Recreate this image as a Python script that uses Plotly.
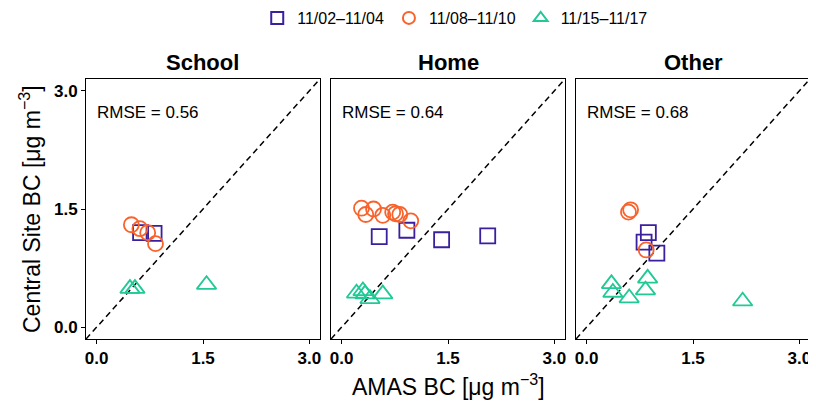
import plotly.graph_objects as go
from plotly.subplots import make_subplots

panels = ["School", "Home", "Other"]
rmse = ["0.56", "0.64", "0.68"]
series_names = ["11/02\u201311/04", "11/08\u201311/10", "11/15\u201311/17"]

# AMAS (x) and Central Site (y) BC values per panel per series
sq_x = {"School": [0.62, 0.81], "Home": [0.53, 0.92, 1.41, 2.06], "Other": [0.87, 0.81, 0.99]}
sq_y = {"School": [1.20, 1.19], "Home": [1.15, 1.23, 1.11, 1.16], "Other": [1.20, 1.08, 0.94]}
ci_x = {"School": [0.49, 0.61, 0.72, 0.83], "Home": [0.28, 0.34, 0.45, 0.58, 0.72, 0.76, 0.82, 0.975], "Other": [0.59, 0.62, 0.84]}
ci_y = {"School": [1.30, 1.25, 1.20, 1.06], "Home": [1.51, 1.43, 1.50, 1.42, 1.46, 1.44, 1.43, 1.35], "Other": [1.46, 1.49, 0.98]}
tr_x = {"School": [0.47, 0.54, 1.55], "Home": [0.21, 0.30, 0.33, 0.40, 0.58], "Other": [0.35, 0.37, 0.60, 0.86, 0.83, 2.20]}
tr_y = {"School": [0.49, 0.49, 0.54], "Home": [0.43, 0.46, 0.42, 0.36, 0.42], "Other": [0.55, 0.44, 0.37, 0.62, 0.47, 0.33]}

ticks = [0.0, 1.5, 3.0]
tick_text = ["0.0", "1.5", "3.0"]
axis_range = [-0.15, 3.15]

colors = ["#3A1F9E", "#F9622B", "#20C995"]
symbols = ["square-open", "circle-open", "triangle-up-open"]
sizes = [15, 15, 17]

OFF = 8  # default page body margin
W, H = 816 - OFF, 401 - OFF
ML, MR, MT = 86 - OFF, 6, 79 - OFF
PW = W - ML - MR
PH = 260
MB = H - MT - PH

fig = make_subplots(rows=1, cols=3, shared_yaxes=True, horizontal_spacing=0.0152)

for i, p in enumerate(panels):
    col = i + 1
    # 1:1 reference line
    fig.add_trace(go.Scatter(x=axis_range, y=axis_range, mode="lines",
                             line=dict(color="black", width=1.5, dash="6px,4px"),
                             showlegend=False, hoverinfo="skip"), row=1, col=col)
    data = [(sq_x[p], sq_y[p]), (ci_x[p], ci_y[p]), (tr_x[p], tr_y[p])]
    for k, (xs, ys) in enumerate(data):
        fig.add_trace(go.Scatter(
            x=xs, y=ys, mode="markers", name=series_names[k],
            legendgroup=series_names[k], showlegend=(i == 0),
            marker=dict(symbol=symbols[k], size=sizes[k], color=colors[k],
                        line=dict(width=1.8, color=colors[k]))),
            row=1, col=col)
    xref = "x" if i == 0 else f"x{col}"
    yref = "y" if i == 0 else f"y{col}"
    fig.add_annotation(x=-0.02, y=2.73, xref=xref, yref=yref, text=f"RMSE = {rmse[i]}",
                       showarrow=False, xanchor="left", yanchor="middle",
                       font=dict(size=17, color="black", family="Liberation Sans, Arial"))
    dom = fig.layout[f"xaxis{'' if i == 0 else col}"].domain
    fig.add_annotation(x=(dom[0] + dom[1]) / 2, y=1.0, xref="paper", yref="paper",
                       yshift=17, text=f"<b>{p}</b>", showarrow=False,
                       xanchor="center", yanchor="middle",
                       font=dict(size=22, color="black", family="Liberation Sans, Arial"))

# axis titles
fig.add_annotation(x=0.5, y=-(385 - OFF - (MT + PH)) / PH, xref="paper", yref="paper",
                   text="AMAS BC [\u03bcg m<sup>\u22123</sup>]", showarrow=False,
                   xanchor="center", yanchor="middle",
                   font=dict(size=23, color="black", family="Liberation Sans, Arial"))
fig.add_annotation(x=-(ML - (30 - OFF)) / PW, y=0.5, xref="paper", yref="paper",
                   text="Central Site BC [\u03bcg m<sup>\u22123</sup>]", showarrow=False,
                   textangle=-90, xanchor="center", yanchor="middle",
                   font=dict(size=23, color="black", family="Liberation Sans, Arial"))

tickfont = dict(size=17, color="black", family="Liberation Sans Narrow, Liberation Sans, Arial")
fig.update_xaxes(range=axis_range, tickvals=ticks, ticktext=["<b>%s</b>" % t for t in tick_text],
                 showgrid=False, zeroline=False, showline=True, mirror=True,
                 linecolor="black", linewidth=1, ticks="outside", ticklen=4,
                 tickcolor="black", tickfont=tickfont, automargin=False)
fig.update_yaxes(range=axis_range, tickvals=ticks, ticktext=["<b>%s</b>" % t for t in tick_text],
                 showgrid=False, zeroline=False, showline=True, mirror=True,
                 linecolor="black", linewidth=1, ticks="outside", ticklen=4,
                 tickcolor="black", tickfont=tickfont, automargin=False)
fig.update_yaxes(ticks="", showticklabels=False, row=1, col=2)
fig.update_yaxes(ticks="", showticklabels=False, row=1, col=3)

fig.update_layout(
    width=W, height=H,
    margin=dict(l=ML, r=MR, t=MT, b=MB, autoexpand=False),
    plot_bgcolor="white", paper_bgcolor="white",
    legend=dict(orientation="h", x=0.51, xanchor="center", y=1 + (MT - (18 - OFF)) / PH,
                yanchor="middle",
                font=dict(size=16, color="black", family="Liberation Sans, Arial"),
                itemsizing="constant", tracegroupgap=0),
    font=dict(family="Liberation Sans, Arial", color="black"),
)

fig.write_html("out.html")
